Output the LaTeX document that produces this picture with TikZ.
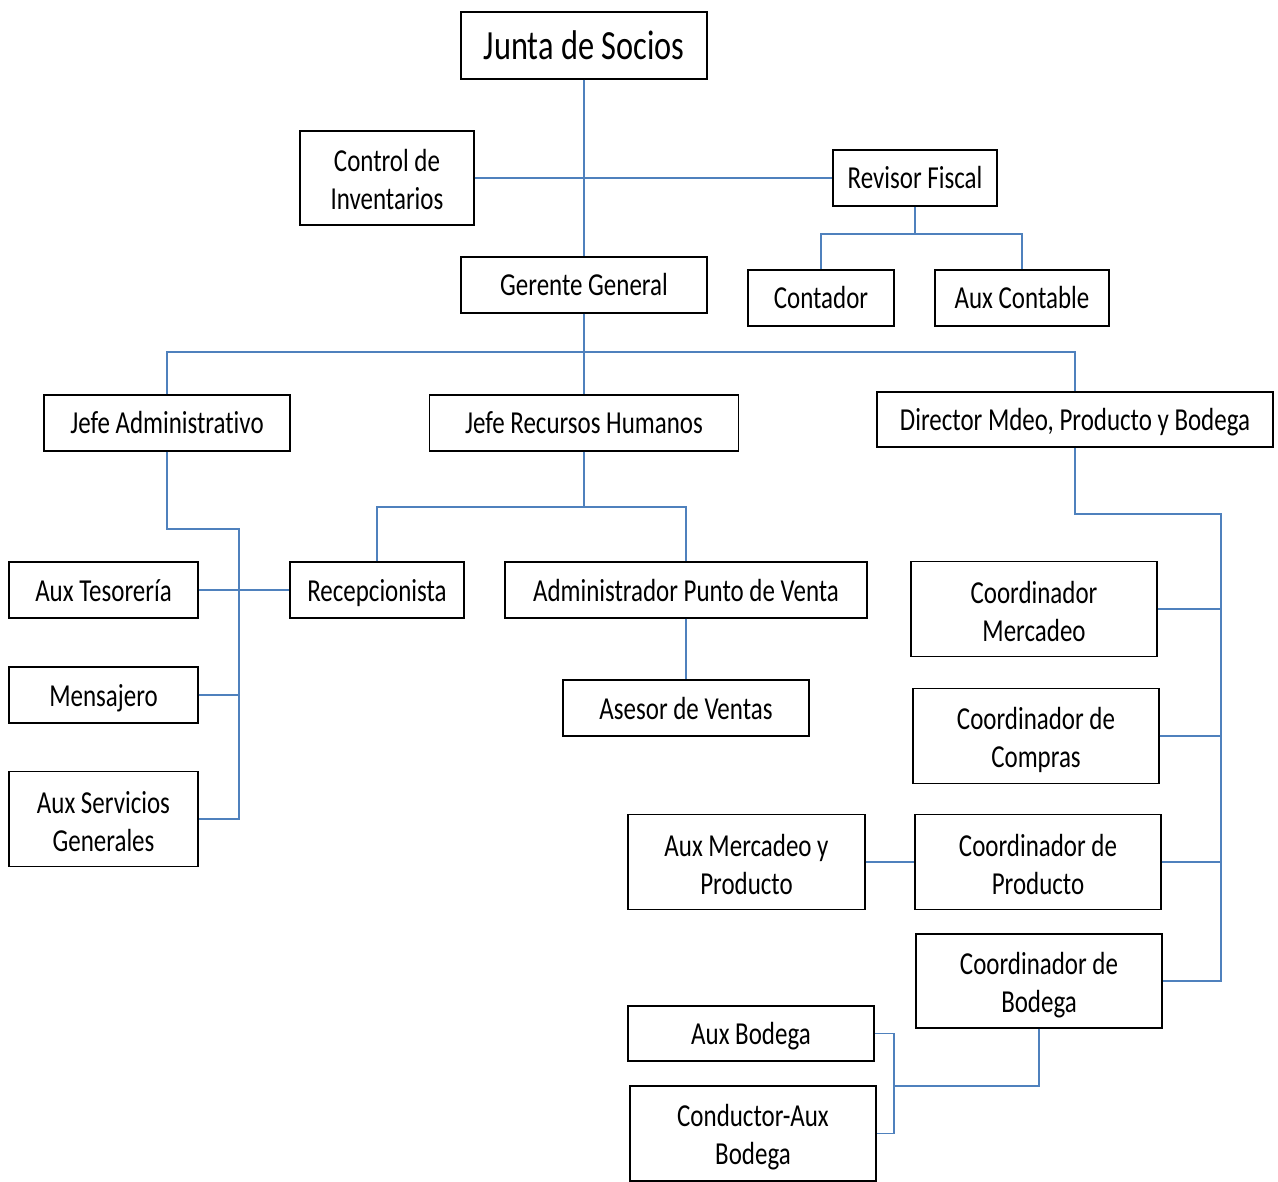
\documentclass[tikz,border=0pt]{standalone}
\usepackage{fontspec}
\setmainfont{Carlito}[FakeStretch=0.78, Ligatures=NoCommon]
\newcommand\oneline[1]{\rule[-8pt]{0pt}{38pt}#1}
\newcommand\twoline[2]{\rule{0pt}{30pt}#1\\#2\rule[-4pt]{0pt}{4pt}}
\begin{document}
\begin{tikzpicture}[x=1pt,y=-1pt,
  box/.style={draw=black, line width=1.4pt, fill=white, inner sep=0pt, align=center,
    font=\fontsize{32}{38}\selectfont},
  link/.style={draw=linkblue, line width=1.8pt}]
\definecolor{linkblue}{HTML}{4F81BD}
\useasboundingbox (0,0) rectangle (1278,1182);
% nodes
\node[box, minimum width=246pt, minimum height=67pt, font=\fontsize{41.5}{48}\selectfont] (junta) at (584,45.5) {\rule[-11pt]{0pt}{51pt}Junta de Socios};
\node[box, minimum width=174pt, minimum height=94pt] (ctrl) at (387,178) {\twoline{Control de}{Inventarios}};
\node[box, minimum width=164pt, minimum height=56pt] (revisor) at (915,178) {\oneline{Revisor Fiscal}};
\node[box, minimum width=246pt, minimum height=56pt] (gerente) at (584,285) {\oneline{Gerente General}};
\node[box, minimum width=146pt, minimum height=56pt] (contador) at (821,298) {\oneline{Contador}};
\node[box, minimum width=174pt, minimum height=56pt] (auxcont) at (1022,298) {\oneline{Aux Contable}};
\node[box, minimum width=246pt, minimum height=56pt] (jadm) at (167,423) {\oneline{Jefe Administrativo}};
\node[box, minimum width=309pt, minimum height=56pt] (jrh) at (584,423) {\oneline{Jefe Recursos Humanos}};
\node[box, minimum width=396pt, minimum height=55pt] (director) at (1075,419.5) {\oneline{Director Mdeo, Producto y Bodega}};
\node[box, minimum width=189pt, minimum height=56pt] (auxtes) at (103.5,590) {\oneline{Aux Tesorería}};
\node[box, minimum width=174pt, minimum height=56pt] (recep) at (377,590) {\oneline{Recepcionista}};
\node[box, minimum width=362pt, minimum height=56pt] (adminpv) at (686,590) {\oneline{Administrador Punto de Venta}};
\node[box, minimum width=189pt, minimum height=56pt] (mensajero) at (103.5,695) {\oneline{Mensajero}};
\node[box, minimum width=246pt, minimum height=56pt] (asesor) at (686,708) {\oneline{Asesor de Ventas}};
\node[box, minimum width=189pt, minimum height=95pt] (auxserv) at (103.5,819) {\twoline{Aux Servicios}{Generales}};
\node[box, minimum width=246pt, minimum height=95pt] (coordmer) at (1034,609) {\twoline{Coordinador}{Mercadeo}};
\node[box, minimum width=246pt, minimum height=95pt] (coordcomp) at (1036,736) {\twoline{Coordinador de}{Compras}};
\node[box, minimum width=237pt, minimum height=95pt] (auxmer) at (746.5,862) {\twoline{Aux Mercadeo y}{Producto}};
\node[box, minimum width=246pt, minimum height=95pt] (coordprod) at (1038,862) {\twoline{Coordinador de}{Producto}};
\node[box, minimum width=246pt, minimum height=94pt] (coordbod) at (1039,981) {\twoline{Coordinador de}{Bodega}};
\node[box, minimum width=246pt, minimum height=55pt] (auxbod) at (751,1033.5) {\oneline{Aux Bodega}};
\node[box, minimum width=246pt, minimum height=95pt] (conductor) at (753,1133.5) {\twoline{Conductor-Aux}{Bodega}};
% junction coordinates
\coordinate (rf) at (915,234);
\coordinate (gg) at (584,352);
\coordinate (ja1) at (239,529);
\coordinate (ja2) at (239,819);
\coordinate (rh) at (584,507);
\coordinate (d1) at (1221,514);
\coordinate (cb) at (894,1086);
% connectors
\path[link] (junta.south) -- (gerente.north);
\path[link] (ctrl.east) -- (revisor.west);
\path[link] (revisor.south) -- (rf);
\path[link] (contador.north) |- (rf) -| (auxcont.north);
\path[link] (gerente.south) -- (jrh.north);
\path[link] (jadm.north) |- (gg) -| (director.north);
\path[link] (jadm.south) |- (ja1) -- (ja2) -- (auxserv.east);
\path[link] (auxtes.east) -- (recep.west);
\path[link] (mensajero.east) -- (mensajero.east -| ja1);
\path[link] (jrh.south) -- (rh);
\path[link] (recep.north) |- (rh) -| (adminpv.north);
\path[link] (adminpv.south) -- (asesor.north);
\path[link] (director.south) |- (d1) -- (coordbod.east -| d1) -- (coordbod.east);
\path[link] (coordmer.east) -- (coordmer.east -| d1);
\path[link] (coordcomp.east) -- (coordcomp.east -| d1);
\path[link] (coordprod.east) -- (coordprod.east -| d1);
\path[link] (auxmer.east) -- (coordprod.west);
\path[link] (coordbod.south) |- (cb);
\path[link] (auxbod.east) -| (cb) |- (conductor.east);
\end{tikzpicture}
\end{document}
